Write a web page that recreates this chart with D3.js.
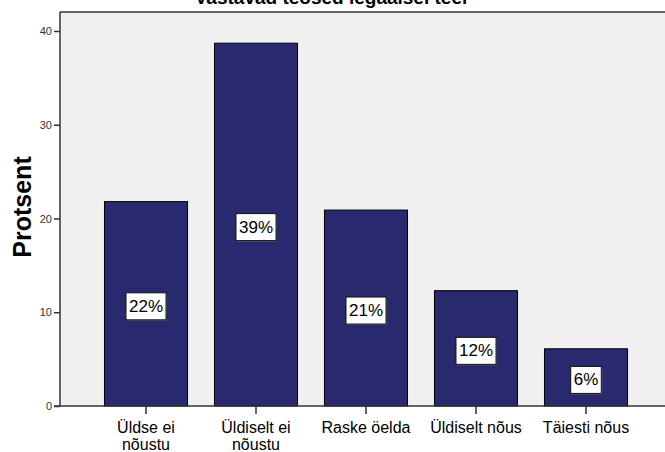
<!DOCTYPE html>
<html>
<head>
<meta charset="utf-8">
<script src="https://cdn.jsdelivr.net/npm/d3@7"></script>
<style>
  body { margin: 0; background: #fff; }
  text { font-family: "Liberation Sans", Arial, sans-serif; }
</style>
</head>
<body>
<svg id="chart" width="665" height="452"></svg>
<script>
const categories = [["Üldse ei", "nõustu"], ["Üldiselt ei", "nõustu"], ["Raske öelda"], ["Üldiselt nõus"], ["Täiesti nõus"]];
const values = [21.8, 38.7, 20.9, 12.3, 6.1];
const valueLabels = ["22%", "39%", "21%", "12%", "6%"];
const yTicks = [0, 10, 20, 30, 40];
const titleText = "Vastavad teosed legaalsel teel";
const yTitle = "Protsent";

const plotLeft = 60, plotTop = 12, plotRight = 672, plotBottom = 406;

let svg = d3.select("#chart");

const keys = categories.map((c, i) => i);

const x = d3.scaleBand()
  .domain(keys)
  .range([91, 641])
  .paddingInner(0.245)
  .paddingOuter(0.1225);

const y = d3.scaleLinear()
  .domain([0, 40])
  .range([plotBottom, 31]);

// plot background
svg.append("rect")
  .attr("x", plotLeft)
  .attr("y", plotTop)
  .attr("width", plotRight - plotLeft)
  .attr("height", plotBottom - plotTop)
  .attr("fill", "#f0f0f0");

svg.append("line")
  .attr("x1", plotLeft).attr("x2", plotRight)
  .attr("y1", plotTop).attr("y2", plotTop)
  .attr("stroke", "#333").attr("stroke-width", 1.5);

// title (cut off at top in the original)
svg.append("text")
  .text(titleText)
  .attr("x", 331)
  .attr("y", 4)
  .attr("text-anchor", "middle")
  .attr("font-size", 19)
  .attr("font-weight", "bold")
  .attr("fill", "#000");

// bars
svg.selectAll("rect.bar")
  .data(values)
  .join("rect")
  .attr("class", "bar")
  .attr("x", (d, i) => x(i))
  .attr("y", d => y(d))
  .attr("width", x.bandwidth())
  .attr("height", d => y(0) - y(d))
  .attr("fill", "#29296f")
  .attr("stroke", "#000")
  .attr("stroke-width", 1);

// y axis
const yAxis = svg.append("g")
  .attr("transform", `translate(${plotLeft},0)`)
  .call(d3.axisLeft(y).tickValues(yTicks).tickSize(6).tickPadding(2).tickSizeOuter(0));
yAxis.select(".domain").remove();
yAxis.selectAll(".tick line").attr("stroke", "#333").attr("stroke-width", 1.5);
yAxis.selectAll(".tick text")
  .attr("font-size", 11)
  .attr("fill", "#333")
  .style("font-family", "Liberation Sans, Arial, sans-serif");

svg.append("line")
  .attr("x1", plotLeft).attr("x2", plotLeft)
  .attr("y1", plotTop).attr("y2", plotBottom)
  .attr("stroke", "#333").attr("stroke-width", 1.5);

// x axis
const xAxis = svg.append("g")
  .attr("transform", `translate(0,${plotBottom})`)
  .call(d3.axisBottom(x).tickSize(8).tickFormat(""));
xAxis.select(".domain").remove();
xAxis.selectAll(".tick line").attr("stroke", "#333").attr("stroke-width", 1.5);

svg.append("line")
  .attr("x1", plotLeft - 6).attr("x2", plotRight)
  .attr("y1", plotBottom).attr("y2", plotBottom)
  .attr("stroke", "#333").attr("stroke-width", 1.5);

// category labels
categories.forEach((lines, i) => {
  lines.forEach((line, j) => {
    svg.append("text")
      .text(line)
      .attr("x", x(i) + x.bandwidth() / 2)
      .attr("y", 433 + j * 17)
      .attr("text-anchor", "middle")
      .attr("font-size", 16)
      .attr("fill", "#000");
  });
});

// value labels in white boxes
values.forEach((v, i) => {
  const cx = x(i) + x.bandwidth() / 2;
  const cy = (y(v) + y(0)) / 2 + 2;
  const g = svg.append("g");
  const t = g.append("text")
    .text(valueLabels[i])
    .attr("x", cx)
    .attr("y", cy + 6)
    .attr("text-anchor", "middle")
    .attr("font-size", 17)
    .attr("fill", "#000");
  const w = t.node().getComputedTextLength() + 6;
  g.insert("rect", "text")
    .attr("x", cx - w / 2 + 1)
    .attr("y", cy - 13 + 1)
    .attr("width", w)
    .attr("height", 27)
    .attr("fill", "#666");
  g.insert("rect", "text")
    .attr("x", cx - w / 2)
    .attr("y", cy - 13)
    .attr("width", w)
    .attr("height", 27)
    .attr("fill", "#fff")
    .attr("stroke", "#111")
    .attr("stroke-width", 1);
});

// y title
svg.append("text")
  .text(yTitle)
  .attr("transform", "translate(31,207) rotate(-90)")
  .attr("text-anchor", "middle")
  .attr("font-size", 25)
  .attr("font-weight", "bold")
  .attr("fill", "#000");
</script>
</body>
</html>
